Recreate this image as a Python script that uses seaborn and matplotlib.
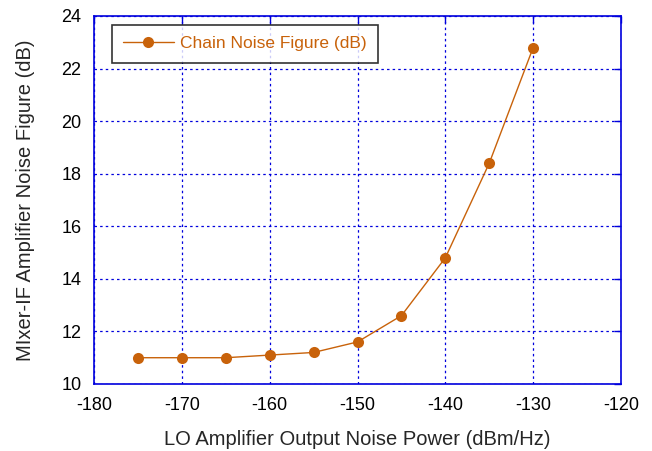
import matplotlib
matplotlib.use("Agg")
import matplotlib.pyplot as plt
import seaborn as sns
import pandas as pd

x_vals = [-175, -170, -165, -160, -155, -150, -145, -140, -135, -130]
nf_vals = [11.0, 11.0, 11.0, 11.1, 11.2, 11.6, 12.6, 14.8, 18.4, 22.8]
series_name = "Chain Noise Figure (dB)"
x_ticks = [-180, -170, -160, -150, -140, -130, -120]
y_ticks = [10, 12, 14, 16, 18, 20, 22, 24]

sns.set_style("white")
plt.rcParams['font.family'] = ['Liberation Sans', 'DejaVu Sans']
plt.rcParams['axes.unicode_minus'] = False

df = pd.DataFrame({"x": x_vals, "y": nf_vals, "s": series_name})

fig = plt.figure(figsize=(6.52, 4.51), dpi=100)
ax = fig.add_axes([94/652, 1-384/451, (621-94)/652, (384-16)/451])

orange = "#c8620a"
blue = "#0000dd"
sns.lineplot(data=df, x="x", y="y", hue="s", palette=[orange], marker="o",
             markersize=8, markeredgewidth=0, linewidth=1, ax=ax)

ax.set_xlim(-180, -120)
ax.set_ylim(10, 24)
ax.set_xticks(x_ticks)
ax.set_yticks(y_ticks)
ax.grid(True, color=blue, linestyle=(0, (2, 2.5)), linewidth=0.9)
for sp in ax.spines.values():
    sp.set_color(blue)
    sp.set_linewidth(1.2)
ax.tick_params(direction="in", colors=blue, length=5, width=1,
               top=True, right=True, labelsize=13, labelcolor="black", pad=9)
ax.set_xlabel("LO Amplifier Output Noise Power (dBm/Hz)", fontsize=14.5, labelpad=12)
ax.set_ylabel("MIxer-IF Amplifier Noise Figure (dB)", fontsize=14.5, labelpad=19)

leg = ax.legend(loc="upper left", bbox_to_anchor=(0.034, 0.976), fontsize=12.5,
                frameon=True, fancybox=False, edgecolor="black",
                handlelength=2.9, handletextpad=0.4, borderpad=0.65,
                borderaxespad=0)
leg.get_frame().set_linewidth(1.2)
for t in leg.get_texts():
    t.set_color(orange)

fig.savefig("out.png", dpi=100)
